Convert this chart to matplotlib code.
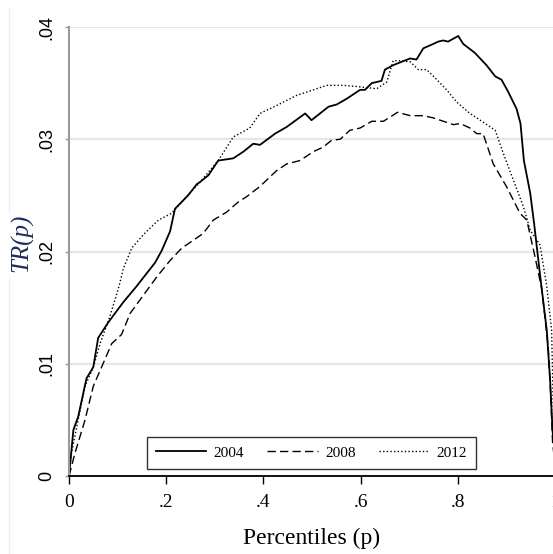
import matplotlib
matplotlib.use("Agg")
import matplotlib.pyplot as plt
from matplotlib.lines import Line2D

# values
p_2004 = [0, 0.009, 0.019, 0.036, 0.05, 0.06, 0.081, 0.112, 0.139, 0.177, 0.191, 0.208,
          0.218, 0.245, 0.263, 0.27, 0.287, 0.307, 0.338, 0.359, 0.379, 0.393, 0.424, 0.448,
          0.486, 0.499, 0.534, 0.551, 0.571, 0.599, 0.609, 0.623, 0.643, 0.65, 0.667, 0.702,
          0.715, 0.729, 0.75, 0.76, 0.77, 0.78, 0.801, 0.811, 0.835, 0.859, 0.877, 0.89,
          0.904, 0.921, 0.929, 0.936, 0.949, 0.957, 0.969, 0.983, 0.99, 0.995, 1.0]
tr_2004 = [0, 0.0041, 0.0053, 0.0087, 0.0097, 0.0123, 0.0137, 0.0155, 0.0169, 0.019, 0.0201,
           0.0218, 0.0238, 0.025, 0.026, 0.0262, 0.0268, 0.0281, 0.0283, 0.0289, 0.0296,
           0.0295, 0.0305, 0.0311, 0.0323, 0.0317, 0.0329, 0.0331, 0.0336, 0.0344, 0.0344,
           0.035, 0.0352, 0.0362, 0.0366, 0.0372, 0.0371, 0.0381, 0.0385, 0.0387, 0.0388,
           0.0387, 0.0392, 0.0385, 0.0377, 0.0366, 0.0356, 0.0353, 0.0342, 0.0327, 0.0314,
           0.0281, 0.0252, 0.0225, 0.018, 0.013, 0.0085, 0.004, 0.002]

p_2008 = [0, 0.012, 0.033, 0.05, 0.067, 0.088, 0.108, 0.126, 0.153, 0.18, 0.208, 0.232,
          0.276, 0.297, 0.324, 0.348, 0.366, 0.393, 0.427, 0.448, 0.475, 0.503, 0.523, 0.54,
          0.558, 0.578, 0.599, 0.623, 0.647, 0.676, 0.702, 0.729, 0.75, 0.791, 0.805, 0.825,
          0.839, 0.852, 0.873, 0.9, 0.928, 0.942, 0.959, 0.973, 0.986, 0.991, 0.995, 1.0]
tr_2008 = [0, 0.002, 0.005, 0.008, 0.0097, 0.0118, 0.0126, 0.0145, 0.0161, 0.0177, 0.0192,
           0.0203, 0.0216, 0.0228, 0.0235, 0.0244, 0.0249, 0.0258, 0.0272, 0.0278, 0.0281,
           0.0289, 0.0293, 0.0299, 0.03, 0.0308, 0.031, 0.0316, 0.0316, 0.0324, 0.0321,
           0.0321, 0.0319, 0.0313, 0.0314, 0.031, 0.0305, 0.0305, 0.0278, 0.0258, 0.0234,
           0.0228, 0.0195, 0.0166, 0.0115, 0.0074, 0.003, 0.001]

p_2012 = [0, 0.005, 0.016, 0.033, 0.05, 0.064, 0.084, 0.101, 0.112, 0.129, 0.153, 0.184,
          0.211, 0.24, 0.27, 0.307, 0.338, 0.372, 0.393, 0.427, 0.468, 0.503, 0.53, 0.564,
          0.592, 0.633, 0.654, 0.667, 0.681, 0.702, 0.719, 0.736, 0.757, 0.777, 0.798, 0.825,
          0.846, 0.877, 0.894, 0.914, 0.935, 0.949, 0.969, 0.983, 0.993, 0.997, 1.0]
tr_2012 = [0, 0.002, 0.0044, 0.008, 0.0097, 0.0118, 0.0142, 0.0166, 0.0185, 0.0203, 0.0215,
           0.0228, 0.0234, 0.0248, 0.0262, 0.0281, 0.0302, 0.031, 0.0323, 0.033, 0.0339,
           0.0344, 0.0348, 0.0348, 0.0347, 0.0345, 0.0351, 0.037, 0.037, 0.0369, 0.0362,
           0.0362, 0.0353, 0.0344, 0.0333, 0.0323, 0.0317, 0.0308, 0.0287, 0.0264, 0.024,
           0.0219, 0.0206, 0.0169, 0.013, 0.005, 0.002]

x_ticks = [0, 0.2, 0.4, 0.6, 0.8, 1.0]
x_labels = ["0", ".2", ".4", ".6", ".8", "1"]
y_ticks = [0, 0.01, 0.02, 0.03, 0.04]
y_labels = ["0", ".01", ".02", ".03", ".04"]

serif = ["Liberation Serif", "DejaVu Serif"]
sans = ["Liberation Sans", "DejaVu Sans"]

fig = plt.figure(figsize=(5.53, 5.54), dpi=100)
ax = fig.add_axes([69 / 553, 78 / 554, 486 / 553, 449 / 554])

# faint outer border line on the far left
fig.add_artist(Line2D([9 / 553, 9 / 553], [1 - 212 / 554, 1 - 8 / 554], color="#ececec", lw=0.8))
fig.add_artist(Line2D([9 / 553, 9 / 553], [0, 1 - 278 / 554], color="#ececec", lw=0.8))

ax.plot(p_2004, tr_2004, color="black", lw=1.3, ls="-", label="2004")
ax.plot(p_2008, tr_2008, color="black", lw=1.0, dashes=(6, 3), label="2008")
ax.plot(p_2012, tr_2012, color="black", lw=1.0, dashes=(1, 1.6), label="2012")

ax.set_xlim(0, 1)
ax.set_ylim(0, 0.04)
ax.set_axisbelow(True)
ax.yaxis.grid(True, color="#e6e6e6", lw=1.6)

for s in ["top", "right"]:
    ax.spines[s].set_visible(False)
ax.spines["left"].set_color("#9a9a9a")
ax.spines["left"].set_linewidth(1.5)
ax.spines["bottom"].set_color("black")
ax.spines["bottom"].set_linewidth(1.3)

ax.set_xticks(x_ticks)
ax.set_xticklabels(x_labels, family=serif, fontsize=14)
ax.tick_params(axis="x", length=6, width=1, color="black", pad=7)
ax.set_yticks(y_ticks)
ax.set_yticklabels(y_labels, family=sans, fontsize=13, rotation=90, va="center")
ax.tick_params(axis="y", length=3, width=1, color="#9a9a9a", pad=7)

ax.set_xlabel("Percentiles (p)", family=serif, fontsize=17, va="center")
ax.xaxis.set_label_coords(0.5, (476 - 538) / 449)
ax.set_ylabel("TR(p)", family=serif, style="italic", fontsize=18, color="#1f2d5c", va="center")
ax.yaxis.set_label_coords((22 - 69) / 486, 0.52)

leg = ax.legend(loc="lower center", bbox_to_anchor=(0.499, 0.0156), ncol=3,
                prop={"family": serif, "size": 11}, frameon=True, fancybox=False,
                handlelength=3.3, handletextpad=0.5, columnspacing=1.5,
                borderaxespad=0, borderpad=0.6)
leg.get_frame().set_edgecolor("black")
leg.get_frame().set_linewidth(1.0)

fig.savefig("out.png", dpi=100)
